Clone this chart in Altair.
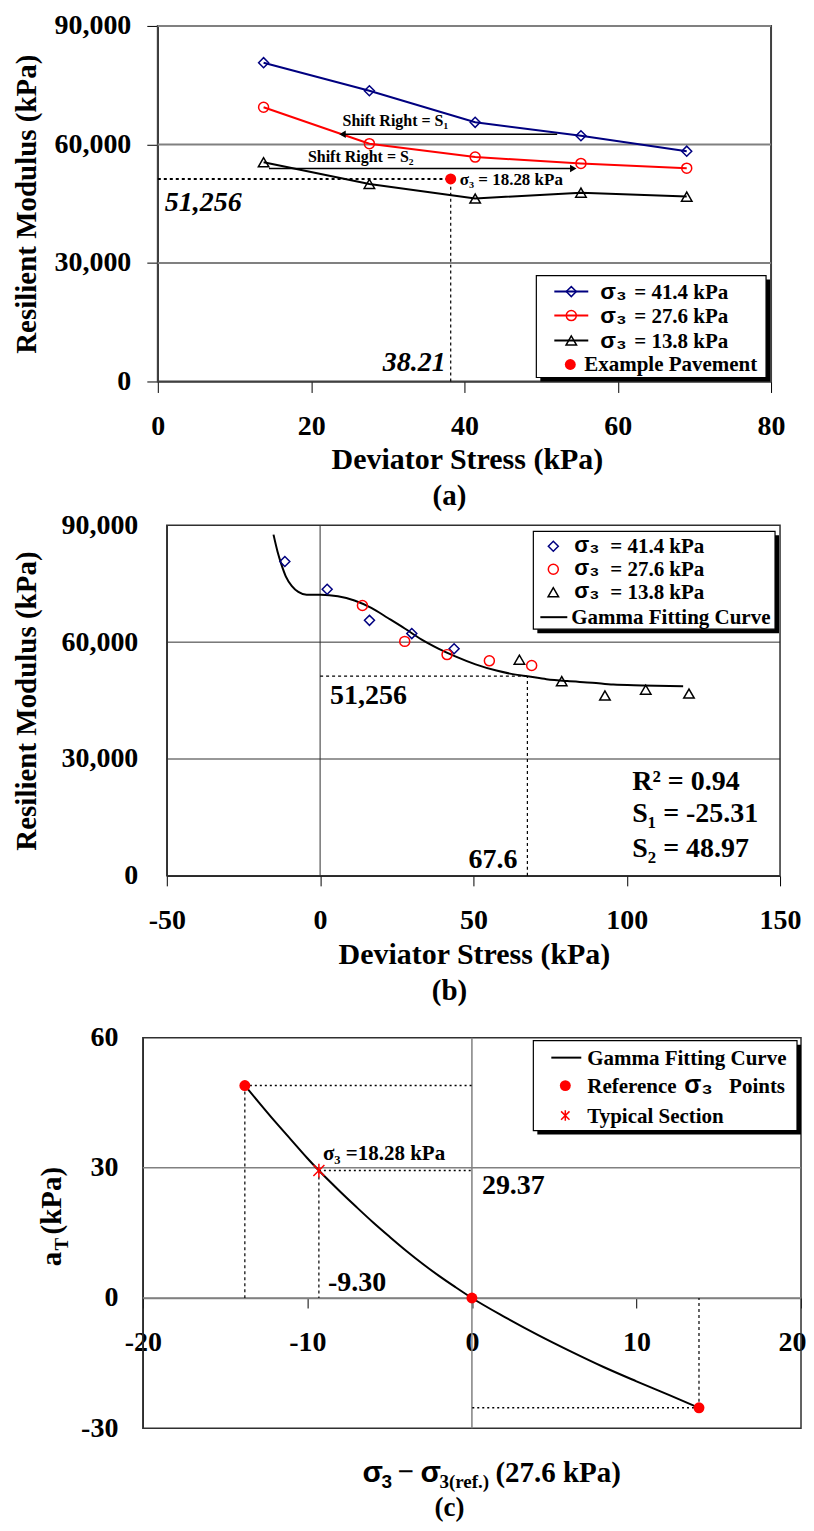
import altair as alt
import pandas as pd

SERIF = "Liberation Serif"
SANS = "Liberation Sans"
NAVY = "#000080"
RED = "#FF0000"

# ---------------- panel (a): measured resilient modulus ----------------
dev_stress = [13.8, 27.6, 41.4, 55.2, 69.0]
mr_414 = [80700, 73600, 65600, 62200, 58300]
mr_276 = [69400, 60200, 56800, 55200, 54000]
mr_138 = [55500, 50000, 46300, 47800, 46800]
confining = ["41.4", "27.6", "13.8"]
pave_x = [38.21]
pave_mr = [51256]
s1_arrow_x = [52.1, 24.1]
s1_arrow_y = [62600]
s2_arrow_x = [14.5, 54.2]
s2_arrow_y = [53900]
shift_labels = ["Shift Right = S₁", "Shift Right = S₂"]
mr_ticks = [0, 30000, 60000, 90000]
stress_ticks_a = [0, 20, 40, 60, 80]

# ---------------- panel (b): shifted master curve ----------------
shift_x_414 = [-11.5, 2.3, 16.1, 29.9, 43.7]
shift_x_276 = [13.8, 27.6, 41.4, 55.2, 69.0]
shift_x_138 = [65.0, 78.8, 92.9, 106.2, 120.3]
gamma_b_x = [-15.2, -13.9, -12.6, -11.2, -9.2, -7.1, -4.4, 0.3, 5.8, 11.2, 16.7,
             22.1, 27.6, 33.0, 38.4, 43.9, 50.7, 57.5, 64.3, 67.6, 73.8, 80.6,
             88.8, 95.6, 105.1, 118.4]
gamma_b_y = [87600, 83300, 79900, 76900, 74400, 72900, 72200, 72200, 71800,
             70700, 68800, 66200, 63500, 60700, 58400, 56400, 54300, 52700,
             51600, 51256, 50500, 50000, 49600, 49100, 48900, 48700]
fit_x = [67.6]
fit_mr = [51256]
fit_stats = ["R² = 0.94", "S₁ = -25.31", "S₂ = 48.97"]
stress_ticks_b = [-50, 0, 50, 100, 150]

# ---------------- panel (c): shift function ----------------
gamma_c_x = [-13.8, -13.0, -12.0, -11.0, -10.0, -9.3, -8.0, -7.0, -6.0, -5.0,
             -4.0, -3.0, -2.0, -1.0, 0.0, 2.0, 4.0, 6.0, 8.0, 10.0, 12.0, 13.8]
gamma_c_y = [48.97, 45.3, 40.8, 36.5, 32.2, 29.37, 24.5, 20.9, 17.4, 14.1,
             10.9, 7.9, 5.1, 2.5, 0.0, -4.4, -8.5, -12.3, -15.9, -19.2,
             -22.4, -25.31]
ref_dx = [-13.8, 0.0, 13.8]
ref_at = [48.97, 0.0, -25.31]
typ_dx = [-9.30]
typ_at = [29.37]
dsig_ticks = [-20, -10, 0, 10, 20]
at_ticks = [-30, 0, 30, 60]

panel_tags = ["(a)", "(b)", "(c)"]

ONE = pd.DataFrame({"k": [0]})
HYPHEN = "toString(datum.value)"
ASTERISK = "M-0.8,-0.8L0.8,0.8M-0.8,0.8L0.8,-0.8M0,-1L0,1"
LAB = 28


def ax(**kw):
    base = dict(labelFont=SERIF, labelFontSize=LAB, labelFontWeight="bold",
                labelColor="black", titleFont=SERIF, titleFontSize=29,
                titleFontWeight="bold", titleColor="black", tickColor="black",
                domainColor="black", labelFlush=False, labelOverlap=False, grid=False)
    base.update(kw)
    return alt.Axis(**base)


def ptext(label, x, y, size, font=SERIF, align="left", baseline="middle",
          angle=None, italic=False):
    kw = dict(align=align, baseline=baseline, font=font, fontSize=size,
              fontWeight="bold", color="black")
    if angle is not None:
        kw["angle"] = angle
    if italic:
        kw["fontStyle"] = "italic"
    return alt.Chart(pd.DataFrame({"label": [label]})).mark_text(**kw).encode(
        x=alt.value(x), y=alt.value(y), text="label:N")


def dtext(df, X, Y, size, align="left", dx=0, dy=0, italic=False):
    kw = dict(align=align, baseline="middle", dx=dx, dy=dy, font=SERIF,
              fontSize=size, fontWeight="bold", color="black")
    if italic:
        kw["fontStyle"] = "italic"
    return alt.Chart(df).mark_text(**kw).encode(x=X, y=Y, text="label:N")


def frame(x1, x2, h, color="#303030", w=1.5):
    return alt.Chart(ONE).mark_rect(fillOpacity=0, stroke=color, strokeWidth=w).encode(
        x=alt.value(x1), x2=alt.value(x2), y=alt.value(0), y2=alt.value(h))


def hgrid(vals, Y, x1, x2, color, w):
    return alt.Chart(pd.DataFrame({"y": vals})).mark_rule(color=color, strokeWidth=w).encode(
        y=Y, x=alt.value(x1), x2=alt.value(x2))


def legend_box(x1, y1, x2, y2):
    shadow = alt.Chart(ONE).mark_rect(fill="black").encode(
        x=alt.value(x1 + 4), x2=alt.value(x2 + 4),
        y=alt.value(y1 + 4), y2=alt.value(y2 + 4))
    box = alt.Chart(ONE).mark_rect(fill="white", stroke="black", strokeWidth=1.2).encode(
        x=alt.value(x1), x2=alt.value(x2), y=alt.value(y1), y2=alt.value(y2))
    return [shadow, box]


def sample_line(x1, x2, y, color):
    return alt.Chart(ONE).mark_rule(color=color, strokeWidth=2).encode(
        x=alt.value(x1), x2=alt.value(x2), y=alt.value(y))


def sample_point(x, y, shape, color, filled, size, sw=1.5):
    return alt.Chart(ONE).mark_point(shape=shape, color=color, filled=filled,
                                     size=size, strokeWidth=sw, opacity=1).encode(
        x=alt.value(x), y=alt.value(y))


def spacer(x, y):
    return alt.Chart(ONE).mark_rule(color="white", strokeWidth=1).encode(
        x=alt.value(x), x2=alt.value(x + 1), y=alt.value(y))


# =============================== panel (a) ===============================
OA, WA, HA = 15, 614, 356          # plot starts 15 px right of the shared origin
XA = alt.X("x:Q", scale=alt.Scale(domain=[0, 80], nice=False, zero=False, range=[OA, OA + WA]),
           axis=ax(values=stress_ticks_a, title=None, tickSize=11,
                   labelPadding=34, labelBaseline="middle"))
YA = alt.Y("y:Q", scale=alt.Scale(domain=[0, 90000], nice=False),
           axis=ax(values=mr_ticks, format=",.0f", offset=-OA,
                   title="Resilient Modulus (kPa)", titleX=-116, tickSize=11,
                   labelPadding=16))

la = [spacer(-134, 100), spacer(-60, -16), frame(OA, OA + WA, HA, "#404040", 2),
      hgrid(mr_ticks[1:], YA, OA, OA + WA, "#808080", 2)]
for ys, color, shape, size in [(mr_414, NAVY, "diamond", 100),
                               (mr_276, RED, "circle", 100),
                               (mr_138, "black", "triangle-up", 110)]:
    d = pd.DataFrame({"x": dev_stress, "y": ys})
    la.append(alt.Chart(d).mark_line(color=color, strokeWidth=2).encode(x=XA, y=YA))
    la.append(alt.Chart(d).mark_point(shape=shape, color=color, size=size,
                                      strokeWidth=1.5, filled=False, opacity=1).encode(x=XA, y=YA))

pave_h = pd.DataFrame({"x": [0.0], "x2": pave_x, "y": pave_mr})
pave_v = pd.DataFrame({"x": pave_x, "y": [0.0], "y2": pave_mr})
la.append(alt.Chart(pave_h).mark_rule(color="black", strokeWidth=2, strokeDash=[3, 3]).encode(
    x=XA, x2="x2:Q", y=YA))
la.append(alt.Chart(pave_v).mark_rule(color="black", strokeWidth=1.2, strokeDash=[3, 3]).encode(
    x=XA, y=YA, y2="y2:Q"))
la.append(alt.Chart(pd.DataFrame({"x": pave_x, "y": pave_mr})).mark_point(
    shape="circle", color=RED, filled=True, size=120, opacity=1).encode(x=XA, y=YA))

a1 = pd.DataFrame({"x": [s1_arrow_x[0]], "x2": [s1_arrow_x[1]], "y": s1_arrow_y})
a2 = pd.DataFrame({"x": [s2_arrow_x[0]], "x2": [s2_arrow_x[1]], "y": s2_arrow_y})
la.append(alt.Chart(a1).mark_rule(color="black", strokeWidth=1.5).encode(x=XA, x2="x2:Q", y=YA))
la.append(alt.Chart(a2).mark_rule(color="black", strokeWidth=1.5).encode(x=XA, x2="x2:Q", y=YA))
la.append(alt.Chart(pd.DataFrame({"x": [s1_arrow_x[1]], "y": s1_arrow_y})).mark_point(
    shape="triangle-left", filled=True, color="black", size=55, opacity=1).encode(x=XA, y=YA))
la.append(alt.Chart(pd.DataFrame({"x": [s2_arrow_x[1]], "y": s2_arrow_y})).mark_point(
    shape="triangle-right", filled=True, color="black", size=55, opacity=1).encode(x=XA, y=YA))
la.append(dtext(pd.DataFrame({"x": [s1_arrow_x[1]], "y": s1_arrow_y, "label": [shift_labels[0]]}),
                XA, YA, 16, dx=0, dy=-13))
la.append(dtext(pd.DataFrame({"x": [s2_arrow_x[0]], "y": s2_arrow_y, "label": [shift_labels[1]]}),
                XA, YA, 16, dx=39, dy=-12))

la.append(dtext(pd.DataFrame({"x": [0.0], "y": pave_mr, "label": [f"{pave_mr[0]:,}"]}),
                XA, YA, 28, dx=7, dy=24, italic=True))
la.append(dtext(pd.DataFrame({"x": pave_x, "y": [0.0], "label": [f"{pave_x[0]:.2f}"]}),
                XA, YA, 28, align="right", dx=-5, dy=-18, italic=True))
la.append(dtext(pd.DataFrame({"x": pave_x, "y": pave_mr, "label": ["σ₃ = 18.28 kPa"]}),
                XA, YA, 17, dx=9, dy=1))

la += legend_box(OA + 379, 250, OA + 609, 352)
rows_a = [266, 290, 315, 339]
for i, (color, shape, size) in enumerate([(NAVY, "diamond", 100), (RED, "circle", 100),
                                          ("black", "triangle-up", 110)]):
    la.append(sample_line(OA + 397, OA + 431, rows_a[i], color))
    la.append(sample_point(OA + 414, rows_a[i], shape, color, False, size))
    la.append(ptext("σ₃", OA + 443, rows_a[i], 23, font=SANS))
    la.append(ptext(f"= {confining[i]} kPa", OA + 477, rows_a[i] + 1, 21))
la.append(sample_point(OA + 413, rows_a[3], "circle", RED, True, 120))
la.append(ptext("Example Pavement", OA + 427, rows_a[3] + 1, 21))

la.append(ptext("Deviator Stress (kPa)", OA + 310, HA + 79, 30, align="center"))
la.append(ptext(panel_tags[0], OA + 292, HA + 115, 29, align="center"))

chart_a = alt.layer(*la).properties(width=OA + WA, height=HA)

# =============================== panel (b) ===============================
OB, WB, HB = 24, 614, 351
XB = alt.X("x:Q", scale=alt.Scale(domain=[-50, 150], nice=False, zero=False, range=[OB, OB + WB]),
           axis=ax(values=stress_ticks_b, title=None, tickSize=10,
                   labelPadding=35, labelBaseline="middle", labelExpr=HYPHEN))
YB = alt.Y("y:Q", scale=alt.Scale(domain=[0, 90000], nice=False),
           axis=ax(values=mr_ticks, format=",.0f", offset=-OB,
                   title="Resilient Modulus (kPa)", titleX=-125, ticks=False,
                   labelPadding=29))

lb = [spacer(-134, 100), frame(OB, OB + WB, HB),
      hgrid(mr_ticks[1:3], YB, OB, OB + WB, "#303030", 1)]
lb.append(alt.Chart(ONE).mark_rule(color="#303030", strokeWidth=1).encode(x=alt.datum(0)))
lb.append(alt.Chart(pd.DataFrame({"x": gamma_b_x, "y": gamma_b_y})).mark_line(
    color="black", strokeWidth=2, interpolate="monotone").encode(x=XB, y=YB))
for xs, ys, color, shape, size in [(shift_x_414, mr_414, NAVY, "diamond", 100),
                                   (shift_x_276, mr_276, RED, "circle", 100),
                                   (shift_x_138, mr_138, "black", "triangle-up", 110)]:
    d = pd.DataFrame({"x": xs, "y": ys})
    lb.append(alt.Chart(d).mark_point(shape=shape, color=color, size=size,
                                      strokeWidth=1.5, filled=False, opacity=1).encode(x=XB, y=YB))

fit_h = pd.DataFrame({"x": [0.0], "x2": fit_x, "y": fit_mr})
fit_v = pd.DataFrame({"x": fit_x, "y": [0.0], "y2": fit_mr})
lb.append(alt.Chart(fit_h).mark_rule(color="black", strokeWidth=1.2, strokeDash=[3, 3]).encode(
    x=XB, x2="x2:Q", y=YB))
lb.append(alt.Chart(fit_v).mark_rule(color="black", strokeWidth=1.2, strokeDash=[3, 3]).encode(
    x=XB, y=YB, y2="y2:Q"))
lb.append(dtext(pd.DataFrame({"x": [0.0], "y": fit_mr, "label": [f"{fit_mr[0]:,}"]}),
                XB, YB, 28, dx=10, dy=20))
lb.append(dtext(pd.DataFrame({"x": fit_x, "y": [0.0], "label": [f"{fit_x[0]:.1f}"]}),
                XB, YB, 28, align="right", dx=-10, dy=-16))
for i, yy in enumerate([257, 289, 324]):
    lb.append(ptext(fit_stats[i], OB + 466, yy, 28))

lb += legend_box(OB + 367, 6, OB + 609, 104)
rows_b = [21, 44, 67, 92]
for i, (color, shape, size) in enumerate([(NAVY, "diamond", 100), (RED, "circle", 100),
                                          ("black", "triangle-up", 110)]):
    lb.append(sample_point(OB + 387, rows_b[i], shape, color, False, size))
    lb.append(ptext("σ₃", OB + 408, rows_b[i] - 1, 22, font=SANS))
    lb.append(ptext(f"= {confining[i]} kPa", OB + 444, rows_b[i] + 1, 21))
lb.append(sample_line(OB + 374, OB + 401, rows_b[3], "black"))
lb.append(ptext("Gamma Fitting Curve", OB + 405, rows_b[3] + 1, 21))

lb.append(ptext("Deviator Stress (kPa)", OB + 308, HB + 79, 30, align="center"))
lb.append(ptext(panel_tags[1], OB + 283, HB + 115, 29, align="center"))

chart_b = alt.layer(*lb).properties(width=OB + WB, height=HB)

# =============================== panel (c) ===============================
WC, HC = 659, 391
Y0C = HC * 60 / 90  # pixel row of a_T = 0 inside panel (c)
LAST = "datum.value === 20"
XC = alt.X("x:Q", scale=alt.Scale(domain=[-20, 20], nice=False, zero=False),
           axis=ax(values=dsig_ticks, title=None, offset=-(HC - Y0C), tickSize=10,
                   labelPadding=35, labelBaseline="middle",
                   labelAlign={"condition": {"test": LAST, "value": "right"}, "value": "center"},
                   labelOffset={"condition": {"test": LAST, "value": 5}, "value": 0},
                   domainColor="#808080", domainWidth=1.5, labelExpr=HYPHEN))
YC = alt.Y("y:Q", scale=alt.Scale(domain=[-30, 60], nice=False, zero=False),
           axis=ax(values=at_ticks, title=None, ticks=False, labelPadding=25,
                   labelExpr=HYPHEN))

lc = [spacer(-134, -31), frame(0, WC, HC), hgrid(at_ticks[1:3], YC, 0, WC, "#808080", 1.5)]
lc.append(alt.Chart(ONE).mark_rule(color="#808080", strokeWidth=1.5).encode(x=alt.datum(0)))

guide_pts = pd.DataFrame({"x": [ref_dx[0], typ_dx[0], ref_dx[2]],
                          "y": [ref_at[0], typ_at[0], ref_at[2]],
                          "zero": [0.0, 0.0, 0.0]})
lc.append(alt.Chart(guide_pts).mark_rule(color="black", strokeWidth=1.5, strokeDash=[2, 3]).encode(
    x=XC, x2="zero:Q", y=YC))
lc.append(alt.Chart(guide_pts).mark_rule(color="black", strokeWidth=1.2, strokeDash=[3, 3]).encode(
    x=XC, y=YC, y2="zero:Q"))

lc.append(alt.Chart(pd.DataFrame({"x": gamma_c_x, "y": gamma_c_y})).mark_line(
    color="black", strokeWidth=2, interpolate="monotone").encode(x=XC, y=YC))
lc.append(alt.Chart(pd.DataFrame({"x": ref_dx, "y": ref_at})).mark_point(
    shape="circle", color=RED, filled=True, size=120, opacity=1).encode(x=XC, y=YC))
lc.append(alt.Chart(pd.DataFrame({"x": typ_dx, "y": typ_at})).mark_point(
    shape=ASTERISK, color=RED, filled=False, size=190, strokeWidth=1.5, opacity=1).encode(x=XC, y=YC))

lc.append(dtext(pd.DataFrame({"x": [0.0], "y": typ_at, "label": [f"{typ_at[0]:.2f}"]}),
                XC, YC, 28, dx=10, dy=15))
lc.append(dtext(pd.DataFrame({"x": typ_dx, "y": [0.0], "label": [f"{typ_dx[0]:.2f}"]}),
                XC, YC, 28, dx=9, dy=-15))
lc.append(dtext(pd.DataFrame({"x": typ_dx, "y": typ_at, "label": ["σ₃ =18.28 kPa"]}),
                XC, YC, 21, dx=4, dy=-17))

lc += legend_box(391, 3, 655, 93)
rows_c = [20, 48, 78]
lc.append(sample_line(409, 439, rows_c[0], "black"))
lc.append(ptext("Gamma Fitting Curve", 445, rows_c[0] + 1, 21))
lc.append(sample_point(423, rows_c[1], "circle", RED, True, 120))
lc.append(ptext("Reference", 445, rows_c[1] + 1, 21))
lc.append(ptext("σ₃", 542, rows_c[1] - 1, 25, font=SANS))
lc.append(ptext("Points", 587, rows_c[1] + 1, 21))
lc.append(sample_point(423, rows_c[2], ASTERISK, RED, False, 110))
lc.append(ptext("Typical Section", 445, rows_c[2] + 1, 21))

lc.append(ptext("a", -82, 229, 29, baseline="alphabetic", angle=270))
lc.append(ptext("T", -75, 213, 19, baseline="alphabetic", angle=270))
lc.append(ptext("(kPa)", -82, 197, 29, baseline="alphabetic", angle=270))

TY = HC + 45
lc.append(ptext("σ", 220, TY, 30, font=SANS))
lc.append(ptext("3", 239, TY + 9, 19, font=SANS))
lc.append(ptext("−", 255, TY - 1, 29))
lc.append(ptext("σ", 278, TY, 30, font=SANS))
lc.append(ptext("3(ref.)", 297, TY + 9, 19))
lc.append(ptext("(27.6 kPa)", 353, TY, 29))
lc.append(ptext(panel_tags[2], 307, HC + 80, 27, align="center"))

chart_c = alt.layer(*lc).properties(width=WC, height=HC)

chart = alt.vconcat(chart_a, chart_b, chart_c, spacing=0).properties(
    padding={"left": 0, "top": 0, "right": 0, "bottom": 2}
).configure_view(strokeWidth=0)

chart.save("out.html", embed_options={"renderer": "svg", "actions": False})
